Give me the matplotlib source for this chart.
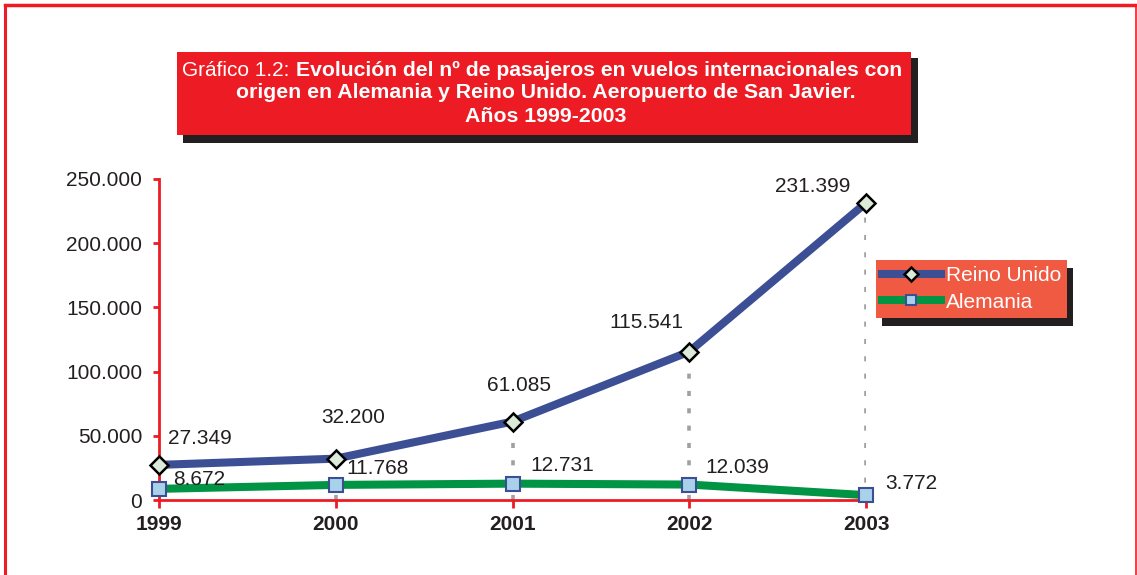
"""
Gráfico 1.2: pasajeros en vuelos internacionales (Alemania / Reino Unido),
Aeropuerto de San Javier, 1999-2003.
"""

import matplotlib
matplotlib.use("Agg")
import matplotlib.pyplot as plt
from matplotlib.patches import Rectangle
from matplotlib.lines import Line2D
from matplotlib.ticker import FuncFormatter

# Data
years = [1999, 2000, 2001, 2002, 2003]
reino_unido = [27349, 32200, 61085, 115541, 231399]
alemania = [8672, 11768, 12731, 12039, 3772]
y_ticks = [0, 50000, 100000, 150000, 200000, 250000]

# label offsets (pixels, text left edge / vertical centre relative to the point)
ru_label_offsets = [(9, 26), (-14, 41), (-26, 36), (-80, 29), (-91, 16)]
al_label_offsets = [(14, 9), (11, 16), (18, 18), (16, 17), (19, 12)]

W, H = 1137, 575
RED = "#ED1C24"
DARK = "#231F20"
NAVY = "#3C4F94"
GREEN = "#009444"
LEGEND_BG = "#F15A42"

plt.rcParams["font.family"] = ["Liberation Sans", "DejaVu Sans"]


def fx(x):
    return x / W


def fy(y):
    return 1 - y / H


def fmt_es(v, _pos=None):
    return f"{int(v):,}".replace(",", ".")


fig = plt.figure(figsize=(W / 100, H / 100), dpi=100)
fig.patch.set_facecolor("white")

# outer frame
fig.add_artist(Line2D([fx(5), fx(5)], [fy(5), fy(580)], color=RED, lw=2.2))
fig.add_artist(Line2D([fx(5), fx(1136)], [fy(5), fy(5)], color=RED, lw=2.5))
fig.add_artist(Line2D([fx(1136), fx(1136)], [fy(5), fy(580)], color=RED, lw=1.2))

# title box with shadow
fig.add_artist(Rectangle((fx(183), fy(143)), fx(918 - 183), (143 - 58) / H,
                         facecolor=DARK, edgecolor="none", zorder=1))
fig.add_artist(Rectangle((fx(177), fy(135)), fx(911 - 177), (135 - 52) / H,
                         facecolor=RED, edgecolor="none", zorder=2))
t_norm = fig.text(fx(182), fy(70), "Gráfico 1.2:", color="white", fontsize=15,
                  ha="left", va="center", zorder=3)
t_bold = fig.text(fx(297), fy(70),
                  "Evolución del nº de pasajeros en vuelos internacionales con",
                  color="white", fontsize=15.2, fontweight="bold",
                  ha="left", va="center", zorder=3)
fig.text(fx(546), fy(93),
         "origen en Alemania y Reino Unido. Aeropuerto de San Javier.",
         color="white", fontsize=15.3, fontweight="bold",
         ha="center", va="center", zorder=3)
fig.text(fx(546), fy(116), "Años 1999-2003", color="white", fontsize=15.3,
         fontweight="bold", ha="center", va="center", zorder=3)

# plot area
ax = fig.add_axes([fx(159), fy(500), fx(866 - 159), (500 - 179) / H])
ax.set_facecolor("none")
ax.set_xlim(years[0], years[-1])
ax.set_ylim(0, 250000)

for side in ["top", "right"]:
    ax.spines[side].set_visible(False)
for side in ["left", "bottom"]:
    ax.spines[side].set_color(RED)
    ax.spines[side].set_linewidth(2)

ax.set_yticks(y_ticks)
ax.yaxis.set_major_formatter(FuncFormatter(fmt_es))
ax.set_xticks(years)
ax.set_xticklabels([str(y) for y in years], fontweight="bold", fontsize=15)
ax.tick_params(axis="y", colors=RED, labelcolor=DARK, labelsize=15,
               length=4, width=2, pad=8)
ax.tick_params(axis="x", colors=RED, labelcolor=DARK, length=6, width=2, pad=5)

# drop lines from Reino Unido points
ax.vlines(years, 0, reino_unido, colors="#A0A0A0", lw=2.6,
          linestyles=(0, (1.4, 3.4)), zorder=1)

ln_ru, = ax.plot(years, reino_unido, color=NAVY, lw=5.8, marker="D", ms=9,
                 mfc="#DCEBD9", mec="black", mew=1.8, zorder=4,
                 clip_on=False, label="Reino Unido")
ln_al, = ax.plot(years, alemania, color=GREEN, lw=5.8, marker="s", ms=10.5,
                 mfc="#A9D2EA", mec=NAVY, mew=1.5, zorder=3,
                 clip_on=False, label="Alemania")

for x, v, off in zip(years, reino_unido, ru_label_offsets):
    ax.annotate(fmt_es(v), (x, v), xytext=off, textcoords="offset pixels",
                ha="left", va="center", fontsize=15, color=DARK,
                annotation_clip=False, zorder=5)
for x, v, off in zip(years, alemania, al_label_offsets):
    ax.annotate(fmt_es(v), (x, v), xytext=off, textcoords="offset pixels",
                ha="left", va="center", fontsize=15, color=DARK,
                annotation_clip=False, zorder=5)

leg = fig.legend(handles=[ln_ru, ln_al], loc="upper left",
                 bbox_to_anchor=(fx(876), fy(260)), bbox_transform=fig.transFigure,
                 borderaxespad=0, borderpad=0.3, fontsize=15, labelcolor="white",
                 frameon=True, fancybox=False, framealpha=1,
                 facecolor=LEGEND_BG, edgecolor="none", handlelength=2.8,
                 handletextpad=0.25, labelspacing=0.35, markerscale=0.75)
leg.set_zorder(6)

# mixed-weight first title line and legend shadow need measured extents
fig.canvas.draw()
r = fig.canvas.get_renderer()
bb = t_norm.get_window_extent(r)
t_bold.set_x((bb.x1 + 7) / W)
lb = leg.get_window_extent(r)
fig.add_artist(Rectangle(((lb.x0 + 6) / W, (lb.y0 - 8) / H), lb.width / W,
                         lb.height / H, facecolor=DARK, edgecolor="none",
                         zorder=5))

fig.savefig("out.png", dpi=100, facecolor="white")
